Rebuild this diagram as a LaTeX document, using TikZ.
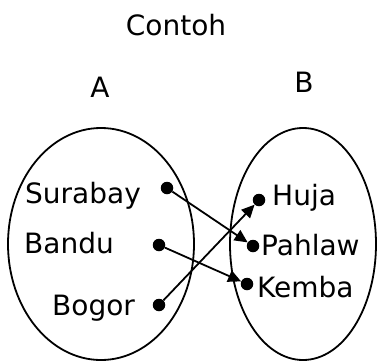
\documentclass[tikz,border=0pt]{standalone}
\usepackage{fontspec}
\setmainfont{DejaVu Sans}
\usetikzlibrary{arrows.meta}
\begin{document}
\begin{tikzpicture}[x=1pt,y=-1pt,
  lbl/.style={font=\fontsize{28}{30}\selectfont, inner sep=0pt},
  dotn/.style={circle, fill=black, inner sep=0pt, minimum size=12.5pt},
  setel/.style={draw=black, line width=1.8pt},
  arr/.style={line width=1.8pt, -{Triangle[length=13pt,width=12pt]}}]
\useasboundingbox (0,0) rectangle (378,362);
\node[lbl, anchor=base] (title) at (176,35) {Contoh};
\node[lbl, anchor=base] (A) at (100,97) {A};
\node[lbl, anchor=base] (B) at (304,92) {B};
\draw[setel] (101,244) ellipse [x radius=93, y radius=116];
\draw[setel] (303,244) ellipse [x radius=73, y radius=116];
\node[lbl, anchor=base west] (sur) at (25,203) {Surabay};
\node[lbl, anchor=base west] (ban) at (24,253) {Bandu};
\node[lbl, anchor=base west] (bog) at (52,315) {Bogor};
\node[lbl, anchor=base west] (huj) at (272,205) {Huja};
\node[lbl, anchor=base west] (pah) at (261,255) {Pahlaw};
\node[lbl, anchor=base west] (kem) at (257,297) {Kemba};
\node[dotn] (d1) at (167,188) {};
\node[dotn] (d2) at (159,245) {};
\node[dotn] (d3) at (159,305) {};
\node[dotn] (d4) at (259,200) {};
\node[dotn] (d5) at (253,246) {};
\node[dotn] (d6) at (247,284) {};
\draw[arr] (d1) -- (d5);
\draw[arr] (d2) -- (d6);
\draw[arr] (d3) -- (d4);
\end{tikzpicture}
\end{document}
